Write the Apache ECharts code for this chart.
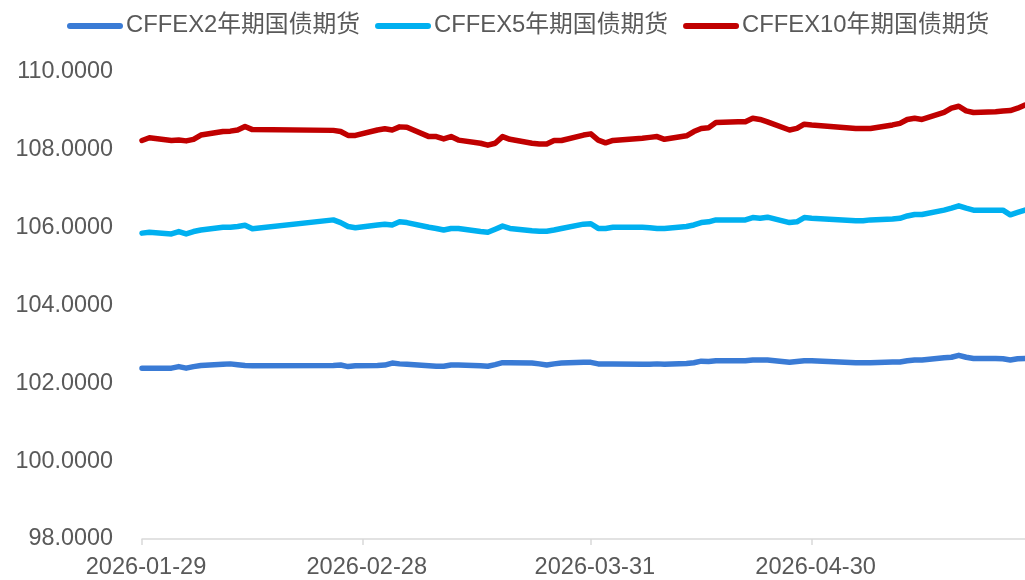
<!DOCTYPE html>
<html>
<head>
<meta charset="utf-8">
<script src="https://cdn.jsdelivr.net/npm/echarts@6/dist/echarts.min.js"></script>
<style>
html,body{margin:0;padding:0;background:#fff;}
#chart{width:1025px;height:580px;}
</style>
</head>
<body>
<div id="chart"></div>
<script>
const startDate = '2026-01-29';
const endDate = '2026-05-29';
const tickLabels = ['2026-01-29', '2026-02-28', '2026-03-31', '2026-04-30'];
const seriesNames = ['CFFEX2年期国债期货', 'CFFEX5年期国债期货', 'CFFEX10年期国债期货'];

const tradeDates = [
  '2026-01-29','2026-01-30',
  '2026-02-02','2026-02-03','2026-02-04','2026-02-05','2026-02-06',
  '2026-02-09','2026-02-10','2026-02-11','2026-02-12','2026-02-13',
  '2026-02-24','2026-02-25','2026-02-26','2026-02-27',
  '2026-03-02','2026-03-03','2026-03-04','2026-03-05','2026-03-06',
  '2026-03-09','2026-03-10','2026-03-11','2026-03-12','2026-03-13',
  '2026-03-16','2026-03-17','2026-03-18','2026-03-19','2026-03-20',
  '2026-03-23','2026-03-24','2026-03-25','2026-03-26','2026-03-27',
  '2026-03-30','2026-03-31',
  '2026-04-01','2026-04-02','2026-04-03',
  '2026-04-07','2026-04-08','2026-04-09','2026-04-10',
  '2026-04-13','2026-04-14','2026-04-15','2026-04-16','2026-04-17',
  '2026-04-20','2026-04-21','2026-04-22','2026-04-23','2026-04-24',
  '2026-04-27','2026-04-28','2026-04-29','2026-04-30',
  '2026-05-06','2026-05-07','2026-05-08',
  '2026-05-11','2026-05-12','2026-05-13','2026-05-14','2026-05-15',
  '2026-05-18','2026-05-19','2026-05-20','2026-05-21','2026-05-22',
  '2026-05-25','2026-05-26','2026-05-27','2026-05-28','2026-05-29'
];

const cffex2 = [
  102.39,102.39,
  102.39,102.43,102.39,102.43,102.46,
  102.49,102.50,102.48,102.46,102.45,
  102.46,102.47,102.43,102.45,
  102.46,102.47,102.52,102.50,102.49,
  102.45,102.44,102.44,102.47,102.47,
  102.45,102.44,102.48,102.53,102.53,
  102.52,102.50,102.47,102.50,102.52,
  102.54,102.54,
  102.50,102.50,102.50,
  102.49,102.49,102.50,102.49,
  102.51,102.53,102.57,102.56,102.58,
  102.58,102.58,102.60,102.60,102.60,
  102.54,102.56,102.58,102.58,
  102.53,102.53,102.53,
  102.55,102.55,102.58,102.60,102.60,
  102.66,102.67,102.72,102.67,102.64,
  102.64,102.63,102.60,102.63,102.64
];

const cffex5 = [
  105.86,105.88,
  105.84,105.90,105.84,105.90,105.94,
  106.01,106.01,106.03,106.06,105.97,
  106.20,106.13,106.03,106.00,
  106.07,106.09,106.07,106.15,106.13,
  106.01,105.98,105.94,105.98,105.98,
  105.90,105.88,105.96,106.04,105.98,
  105.92,105.91,105.91,105.94,105.98,
  106.09,106.10,
  105.98,105.98,106.01,
  106.01,106.00,105.98,105.98,
  106.03,106.07,106.13,106.15,106.20,
  106.20,106.20,106.26,106.24,106.27,
  106.13,106.15,106.26,106.24,
  106.18,106.18,106.20,
  106.22,106.24,106.30,106.34,106.34,
  106.45,106.50,106.56,106.50,106.45,
  106.45,106.45,106.33,106.39,106.45
];

const cffex10 = [
  108.24,108.31,
  108.24,108.25,108.23,108.27,108.38,
  108.47,108.48,108.51,108.60,108.52,
  108.50,108.47,108.37,108.37,
  108.51,108.54,108.51,108.59,108.58,
  108.34,108.34,108.28,108.34,108.25,
  108.17,108.12,108.17,108.34,108.27,
  108.17,108.15,108.15,108.24,108.24,
  108.38,108.41,
  108.25,108.18,108.24,
  108.30,108.32,108.34,108.27,
  108.36,108.47,108.55,108.57,108.70,
  108.72,108.72,108.81,108.78,108.72,
  108.51,108.55,108.66,108.64,
  108.55,108.55,108.55,
  108.64,108.68,108.78,108.81,108.78,
  108.96,109.07,109.12,109.00,108.96,
  108.98,109.00,109.01,109.07,109.15
];

const colors = ['#3A7BD5', '#00B0F0', '#C00000'];

// calendar categories (every day), trading days placed on them
function pad(n){return n < 10 ? '0' + n : '' + n;}
const categories = [];
{
  const d = new Date(startDate + 'T00:00:00Z');
  const end = new Date(endDate + 'T00:00:00Z');
  while (d <= end) {
    categories.push(d.getUTCFullYear() + '-' + pad(d.getUTCMonth() + 1) + '-' + pad(d.getUTCDate()));
    d.setUTCDate(d.getUTCDate() + 1);
  }
}
function align(values) {
  const m = {};
  tradeDates.forEach((t, i) => { m[t] = values[i]; });
  return categories.map(c => (c in m ? m[c] : null));
}
const tickSet = new Set(tickLabels);
const showTick = (idx, val) => tickSet.has(val);

const font = '"Liberation Sans", Arial, "Noto Sans CJK SC", sans-serif';
const chart = echarts.init(document.getElementById('chart'), null, {renderer: 'canvas'});
const seriesData = [cffex2, cffex5, cffex10];

chart.setOption({
  animation: false,
  color: colors,
  textStyle: {fontFamily: font},
  legend: {
    left: 62,
    top: 9,
    itemWidth: 56,
    itemHeight: 6,
    itemGap: 15,
    icon: 'path://M3,0 L53,0 A3,3 0 0 1 53,6 L3,6 A3,3 0 0 1 3,0 Z',
    textStyle: {fontSize: 23.8, color: '#595959', fontFamily: font, padding: [0, 0, 0, -2]},
    data: seriesNames
  },
  grid: {left: 142, right: -4, top: 72, bottom: 41, containLabel: false},
  xAxis: {
    type: 'category',
    data: categories,
    boundaryGap: false,
    axisLine: {show: true, lineStyle: {color: '#D9D9D9', width: 1.5}},
    axisTick: {show: true, interval: showTick, length: 6, lineStyle: {color: '#D9D9D9', width: 1.5}},
    axisLabel: {interval: showTick, fontSize: 23.6, color: '#595959', margin: 17, fontFamily: font,
      padding: [0, 0, 0, 8]},
    splitLine: {show: false}
  },
  yAxis: {
    type: 'value',
    min: 98,
    max: 110,
    interval: 2,
    axisLine: {show: false},
    axisTick: {show: false},
    splitLine: {show: false},
    axisLabel: {fontSize: 23.4, color: '#595959', margin: 29, fontFamily: font,
      formatter: v => v.toFixed(4)}
  },
  series: seriesData.map((vals, i) => ({
    name: seriesNames[i],
    type: 'line',
    data: align(vals),
    connectNulls: true,
    showSymbol: false,
    symbol: 'none',
    lineStyle: {width: 5.5, color: colors[i], cap: 'round', join: 'round'},
    itemStyle: {color: colors[i]},
    z: 3 - i
  }))
});
</script>
</body>
</html>
